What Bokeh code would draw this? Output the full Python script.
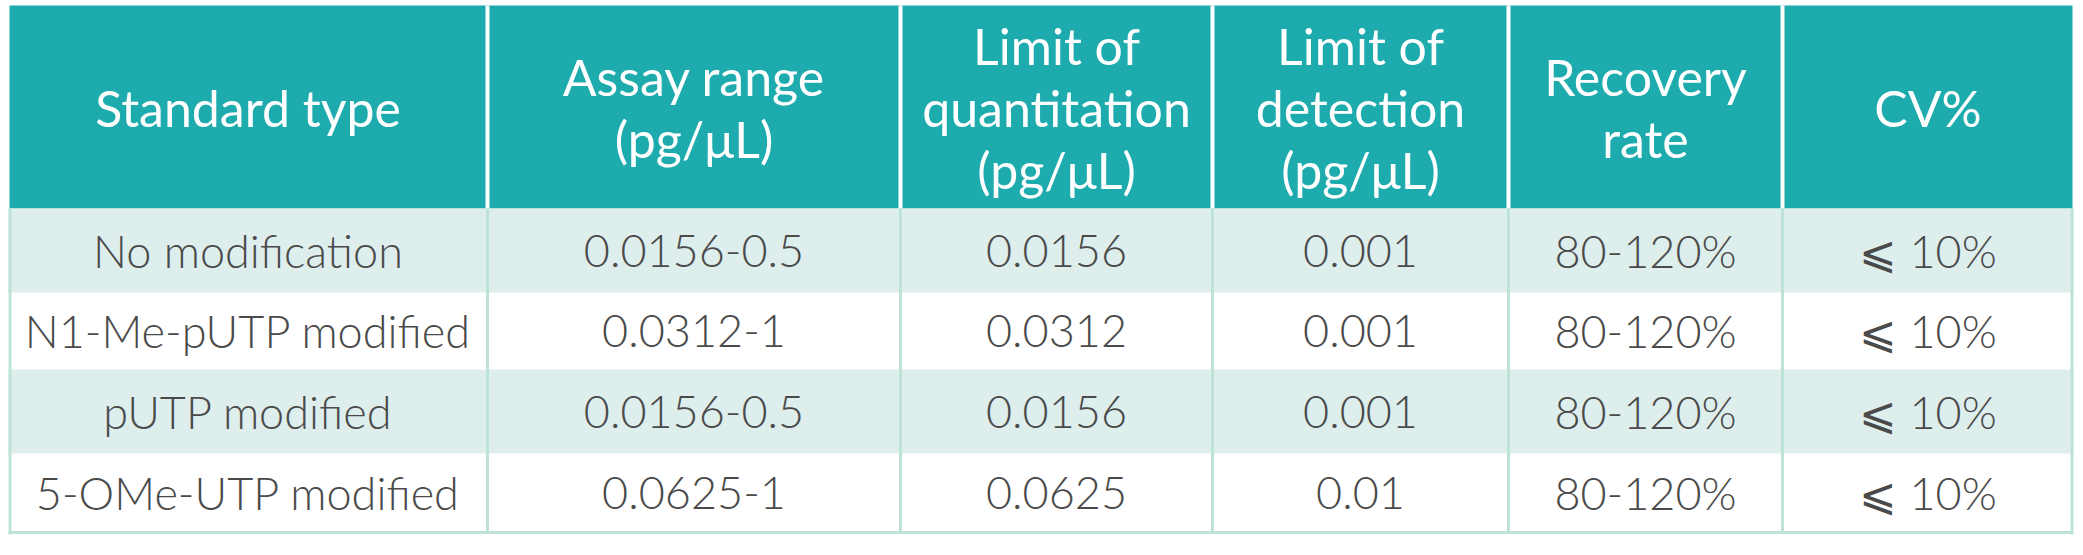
from bokeh.plotting import figure
from bokeh.models import Range1d
from bokeh.core.properties import value
from bokeh.embed import file_html
from bokeh.resources import INLINE

# ---- data ----
headers = ["Standard type", "Assay range\n(pg/μL)", "Limit of\nquantitation\n(pg/μL)",
           "Limit of\ndetection\n(pg/μL)", "Recovery\nrate", "CV%"]
standard_type = ["No modification", "N1-Me-pUTP modified", "pUTP modified", "5-OMe-UTP modified"]
assay_range = ["0.0156-0.5", "0.0312-1", "0.0156-0.5", "0.0625-1"]
limit_quant = ["0.0156", "0.0312", "0.0156", "0.0625"]
limit_detect = ["0.001", "0.001", "0.001", "0.01"]
recovery = ["80-120%", "80-120%", "80-120%", "80-120%"]
cv = ["⩽ 10%", "⩽ 10%", "⩽ 10%", "⩽ 10%"]
columns = [standard_type, assay_range, limit_quant, limit_detect, recovery, cv]

# ---- layout (screen pixels) ----
col_edges = [8, 487, 900, 1212, 1508, 1782, 2073]
row_edges = [5, 208, 292, 369, 453, 532]
TEAL = "#1dabad"
LIGHT = "#ddeeed"
BORDER = "#bde3d7"
TEXT = "#4a4a4a"
HFONT = "Lato"
BFONT = "Lato Light, Lato"
W, H = 2078, 550

p = figure(width=W, height=H, output_backend="svg", toolbar_location=None,
           x_range=Range1d(0, W), y_range=Range1d(H, 0),
           min_border=0, min_border_left=0, min_border_right=0,
           min_border_top=0, min_border_bottom=0)
p.axis.visible = False
p.grid.visible = False
p.outline_line_color = None
p.background_fill_color = "white"
p.border_fill_color = "white"

# header background
p.quad(left=[col_edges[0] + 1], right=[col_edges[-1] - 1], top=[row_edges[0]], bottom=[row_edges[1]],
       fill_color=TEAL, line_color=None)
# body row backgrounds
nrows = len(standard_type)
for i in range(nrows):
    if i % 2 == 0:
        p.quad(left=[col_edges[0]], right=[col_edges[-1]], top=[row_edges[i + 1]], bottom=[row_edges[i + 2]],
               fill_color=LIGHT, line_color=None)

# separators
inner = col_edges[1:-1]
p.segment(x0=inner, x1=inner, y0=[row_edges[0]] * len(inner), y1=[row_edges[1]] * len(inner),
          line_color="white", line_width=4)
p.segment(x0=inner, x1=inner, y0=[row_edges[1]] * len(inner), y1=[row_edges[-1]] * len(inner),
          line_color=BORDER, line_width=3)
# outer border (left, right, bottom)
p.segment(x0=[col_edges[0] + 1.5, col_edges[-1] - 1.5, col_edges[0]],
          x1=[col_edges[0] + 1.5, col_edges[-1] - 1.5, col_edges[-1]],
          y0=[row_edges[1], row_edges[1], row_edges[-1]],
          y1=[row_edges[-1] + 2, row_edges[-1] + 2, row_edges[-1]],
          line_color=BORDER, line_width=3)

# header text
hx, hy, ht = [], [], []
line_gap = 62
hc = (row_edges[0] + row_edges[1]) / 2 + 1
for j, h in enumerate(headers):
    lines = h.split("\n")
    cx = (col_edges[j] + col_edges[j + 1]) / 2
    n = len(lines)
    for k, ln in enumerate(lines):
        hx.append(cx)
        hy.append(hc + (k - (n - 1) / 2) * line_gap)
        ht.append(ln)
p.text(x=hx, y=hy, text=ht, text_align="center", text_baseline="middle",
       text_color="white", text_font=value(HFONT), text_font_size="50px")

# body text
bx, by, bt = [], [], []
for j, col in enumerate(columns):
    cx = (col_edges[j] + col_edges[j + 1]) / 2
    for i, v in enumerate(col):
        bx.append(cx)
        by.append((row_edges[i + 1] + row_edges[i + 2]) / 2)
        bt.append(v)
p.text(x=bx, y=by, text=bt, text_align="center", text_baseline="middle",
       text_color=TEXT, text_font=value(BFONT), text_font_size="45px")

open("out.html", "w").write(file_html(p, INLINE))
